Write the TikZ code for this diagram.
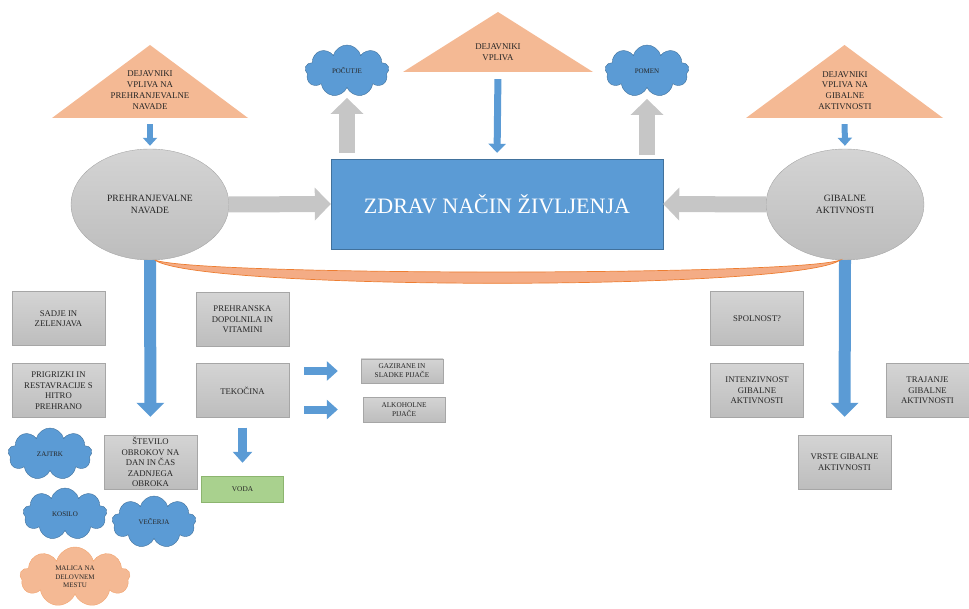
\documentclass[tikz,border=0pt]{standalone}
\usepackage{fontspec}
\setmainfont{Liberation Serif}
\usetikzlibrary{shapes.geometric,shapes.symbols,arrows.meta}
\definecolor{zblue}{HTML}{5B9BD5}
\definecolor{zblueline}{HTML}{41719C}
\definecolor{zorange}{HTML}{F4B994}
\definecolor{zband}{HTML}{F4AC85}
\definecolor{zorangeline}{HTML}{ED7D31}
\definecolor{zgraytop}{HTML}{D4D4D4}
\definecolor{zgraybot}{HTML}{BDBDBD}
\definecolor{zgrayline}{HTML}{A6A6A6}
\definecolor{zarrow}{HTML}{C6C6C6}
\definecolor{zgreen}{HTML}{A9D18E}
\definecolor{zgreenline}{HTML}{8CB56F}
\tikzset{
  box/.style={draw=zgrayline, top color=zgraytop, bottom color=zgraybot, minimum width=93pt, minimum height=54pt,
    inner sep=1pt, align=center, text=black!85, font=\fontsize{8.7}{10.5}\selectfont},
  smallbox/.style={box, minimum width=82pt, minimum height=24pt, font=\fontsize{7.3}{9}\selectfont},
  oval/.style={ellipse, draw=zgrayline, top color=zgraytop, bottom color=zgraybot, minimum width=158pt,
    minimum height=111pt, inner sep=0pt, align=center, text=black!85, font=\fontsize{9.6}{12}\selectfont},
  puff/.style={cloud, cloud puffs=9, aspect=1.6, draw=zblueline, fill=zblue, minimum width=84pt,
    minimum height=52pt, inner sep=0pt, align=center, text=black!85, font=\fontsize{7}{8.6}\selectfont},
  tri/.style={minimum height=73pt, inner sep=0pt, path picture={
    \fill[zorange] (path picture bounding box.south west) -- (path picture bounding box.south east)
      -- (path picture bounding box.north) -- cycle;}},
  tritext/.style={align=center, text=black!85, font=\fontsize{8.8}{10.8}\selectfont},
  fatgray/.style={line width=16pt, zarrow, -{Triangle[length=16pt,width=32pt]}},
  fatblue/.style={line width=12pt, zblue, -{Triangle[length=14pt,width=27pt]}},
  midblue/.style={line width=9pt, zblue, -{Triangle[length=11pt,width=19pt]}},
  thinblue/.style={line width=6pt, zblue, -{Triangle[length=8pt,width=14pt]}}
}
\begin{document}
\begin{tikzpicture}[x=1pt,y=-1pt]
\useasboundingbox (0,0) rectangle (969,609);
%factors
\node[tri, minimum width=196pt] (dl) at (150,81.5) {};
\node[tritext] (dlt) at (150,90) {DEJAVNIKI\\VPLIVA NA\\PREHRANJEVALNE\\NAVADE};
\node[tri, minimum width=190pt, minimum height=60pt] (dm) at (498,42) {};
\node[tritext] (dmt) at (498,52.5) {DEJAVNIKI\\VPLIVA};
\node[tri, minimum width=197pt] (dr) at (844.5,81.5) {};
\node[tritext] (drt) at (845,90.5) {DEJAVNIKI\\VPLIVA NA\\GIBALNE\\AKTIVNOSTI};
%middle row
\node[oval] (pn) at (150,204.5) {PREHRANJEVALNE\\NAVADE};
\node[oval] (ga) at (845,204.5) {GIBALNE\\AKTIVNOSTI};
\node[draw=zblueline, fill=zblue, minimum width=332pt, minimum height=90pt, text=white,
  font=\fontsize{22}{26}\selectfont] (zd) at (497,204) {ZDRAV NAČIN ŽIVLJENJA};
\node[puff] (po) at (347,71) {POČUTJE};
\node[puff] (pm) at (647,71) {POMEN};
%nutrition
\node[box] (sa) at (58.5,318.5) {SADJE IN\\ZELENJAVA};
\node[box] (pr) at (58.5,390.5) {PRIGRIZKI IN\\RESTAVRACIJE S\\HITRO\\PREHRANO};
\node[box] (pd) at (242.5,319.5) {PREHRANSKA\\DOPOLNILA IN\\VITAMINI};
\node[box] (tk) at (242.5,390.5) {TEKOČINA};
\node[box] (st) at (150.5,462) {ŠTEVILO\\OBROKOV NA\\DAN IN ČAS\\ZADNJEGA\\OBROKA};
\node[smallbox, draw=zgreenline, top color=zgreen, bottom color=zgreen, minimum height=26pt] (vo) at (242.5,489) {VODA};
\node[smallbox] (gz) at (402,371) {GAZIRANE IN\\SLADKE PIJAČE};
\node[smallbox, minimum height=25pt] (al) at (404,409.5) {ALKOHOLNE\\PIJAČE};
\node[puff] (za) at (50,454) {ZAJTRK};
\node[puff] (ko) at (65,514) {KOSILO};
\node[puff] (ve) at (154,522) {VEČERJA};
\node[puff, fill=zorange, draw=zorangeline!70, minimum width=110pt, minimum height=60pt] (ma) at (75,577) {MALICA NA\\DELOVNEM\\MESTU};
%activity
\node[box] (sp) at (757,318.5) {SPOLNOST?};
\node[box] (it) at (757,390.5) {INTENZIVNOST\\GIBALNE\\AKTIVNOSTI};
\node[box, minimum width=83pt] (tr) at (927.5,390.5) {TRAJANJE\\GIBALNE\\AKTIVNOSTI};
\node[box] (vr) at (844.5,462) {VRSTE GIBALNE\\AKTIVNOSTI};
%arrows
\draw[thinblue, shorten <=6pt, shorten >=3pt] (dl.south) -- (pn.north);
\draw[thinblue, shorten <=6pt, shorten >=3pt] (dr.south) -- (ga.north);
\draw[thinblue, line width=7pt, -{Triangle[length=9pt,width=17pt]}, shorten <=7pt, shorten >=6pt] (dm.south) -- (zd.north);
\draw[fatgray] (pn.east) -- (zd.west);
\draw[fatgray] (ga.west) -- (zd.east);
\draw[fatgray, shorten <=6pt, shorten >=10pt] (zd.north -| po.south) -- (po.south);
\draw[fatgray, shorten <=4pt, shorten >=11pt] (zd.north -| pm.south) -- (pm.south);
\draw[fatblue, shorten >=18pt] (pn.south) -- (st.north);
\draw[fatblue, shorten >=18pt] (ga.south) -- (vr.north);
\draw[midblue, shorten <=10pt, shorten >=13pt] (tk.south) -- (vo.north);
\draw[midblue, line width=8pt, shorten <=15pt, shorten >=23pt] (tk.east |- gz.west) -- (gz.west);
\draw[midblue, line width=8pt, shorten <=15pt, shorten >=25pt] (tk.east |- al.west) -- (al.west);
%link
\draw[draw=zorangeline, fill=zband, line width=0.7pt] (pn.-85) .. controls (200,291) and (795,291) .. (ga.-95)
  .. controls (795,276) and (200,276) .. (pn.-85);
\end{tikzpicture}
\end{document}
